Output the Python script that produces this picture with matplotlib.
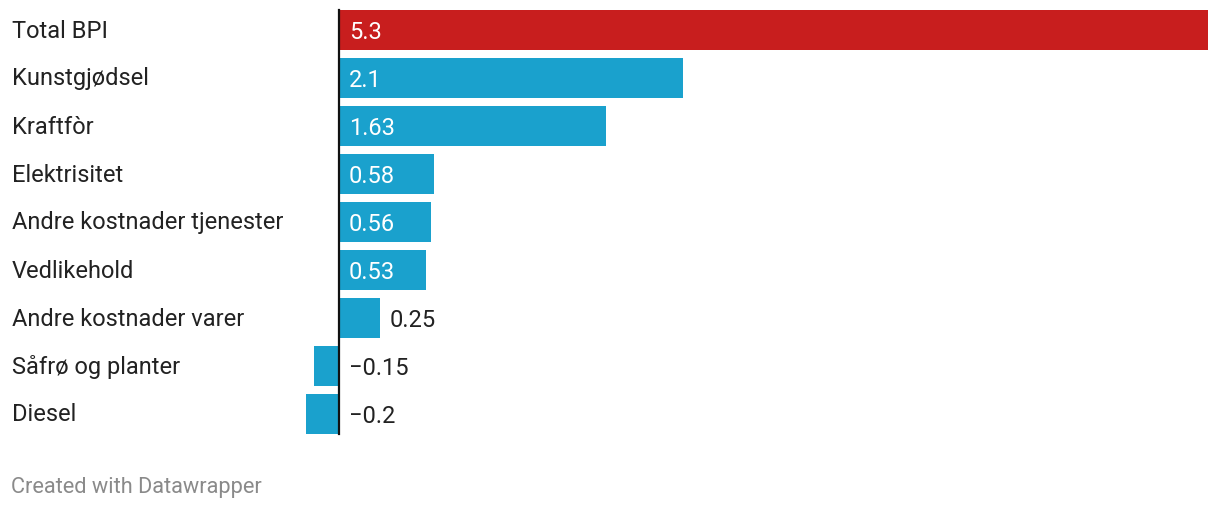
import matplotlib
matplotlib.use("Agg")
import matplotlib.pyplot as plt

plt.rcParams['font.family'] = ['Roboto', 'DejaVu Sans']

categories = ['Total BPI', 'Kunstgjødsel', 'Kraftfòr', 'Elektrisitet',
              'Andre kostnader tjenester', 'Vedlikehold',
              'Andre kostnader varer', 'Såfrø og planter', 'Diesel']
values = [5.3, 2.1, 1.63, 0.58, 0.56, 0.53, 0.25, -0.15, -0.2]
labels = ['5.3', '2.1', '1.63', '0.58', '0.56', '0.53', '0.25', '\u22120.15', '\u22120.2']

red = '#c81e1e'
blue = '#1aa1cd'
colors = [red] + [blue] * (len(values) - 1)

W, H = 1220, 510
fig = plt.figure(figsize=(W / 100, H / 100), dpi=100)

# axes placed in pixels: x from 306 to 1208, y rows centred at 29 + 48*i
left, right = 306, 1208
top, bottom = 7, 439
ax = fig.add_axes([left / W, (H - bottom) / H, (right - left) / W, (bottom - top) / H])

y = list(range(len(values)))
ax.barh(y, values, height=40 / 48, color=colors, zorder=2)
ax.set_xlim(-0.2, 5.3)
ax.set_ylim(len(values) - 0.5, -0.5)
ax.axis('off')

# zero baseline
ax.plot([0, 0], [-0.5 + 4 / 48, len(values) - 0.5 - 4 / 48], color='#111111', lw=1.6, zorder=3)

fs = 17
px = 5.5 / (right - left)  # data units per pixel
for i, (v, lab) in enumerate(zip(values, labels)):
    if v >= 0.5:
        ax.text(10 * px, i + 0.03, lab, color='white', va='center', ha='left', fontsize=fs, zorder=4)
    elif v > 0:
        ax.text(v + 10 * px, i + 0.03, lab, color='#222222', va='center', ha='left', fontsize=fs, zorder=4)
    else:
        ax.text(10 * px, i + 0.03, lab, color='#222222', va='center', ha='left', fontsize=fs, zorder=4)

for i, cat in enumerate(categories):
    fig.text(12 / W, 1 - (31 + 48 * i) / H, cat, color='#222222', va='center', ha='left', fontsize=fs)

fig.text(11 / W, 1 - 488 / H, 'Created with Datawrapper', color='#8a8a8a', va='center', ha='left', fontsize=15.7)

fig.savefig('out.png', dpi=100, facecolor='white')
